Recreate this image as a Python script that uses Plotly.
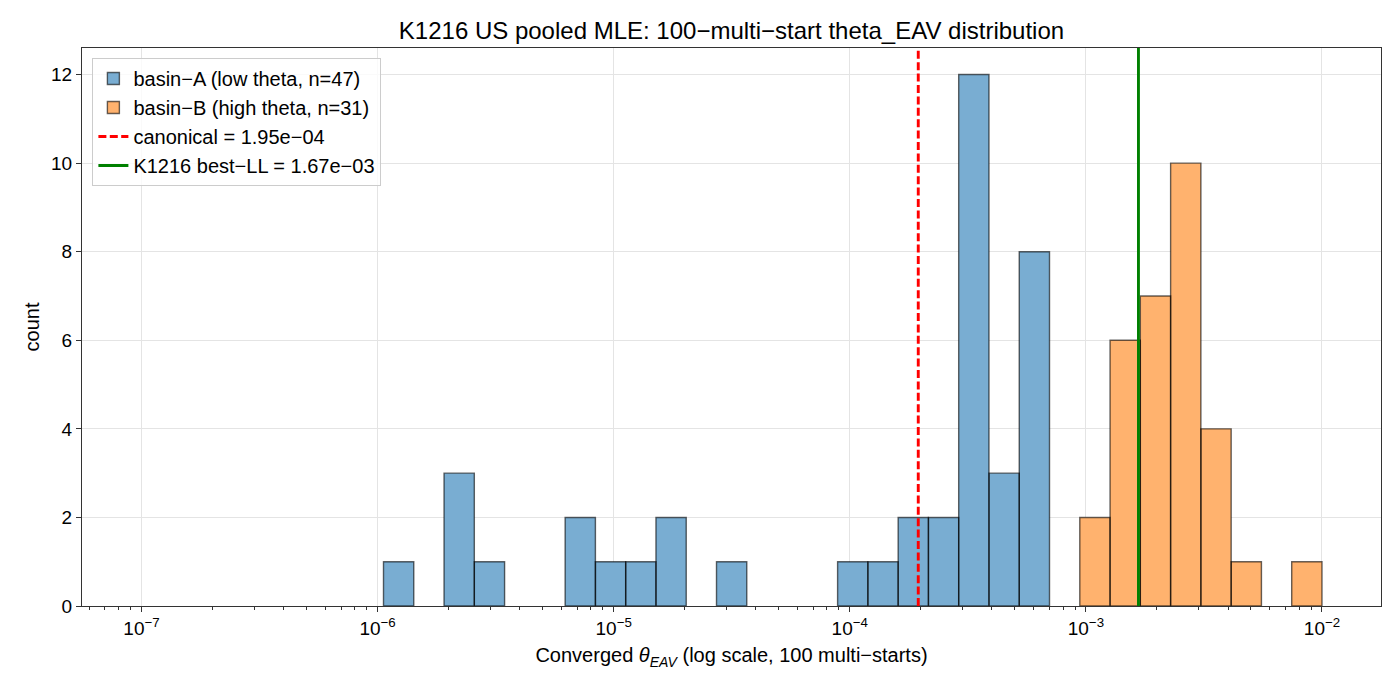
import numpy as np
import plotly.graph_objects as go

# ---- data ----
log_lo, log_hi, n_bins = -5.975, -2.0, 31          # histogram bin range (log10) and bin count
basin_a_bins = [0, 2, 3, 6, 7, 8, 9, 11, 15, 16, 17, 18, 19, 20, 21]
basin_a_counts = [1, 3, 1, 2, 1, 1, 2, 1, 1, 1, 2, 2, 12, 3, 8]
basin_b_bins = [23, 24, 25, 26, 27, 28, 30]
basin_b_counts = [2, 6, 7, 10, 4, 1, 1]
canonical = 1.95e-4
best_ll = 1.67e-3
major_exps = [-7, -6, -5, -4, -3, -2]
y_ticks = [0, 2, 4, 6, 8, 10, 12]

edges = np.logspace(log_lo, log_hi, n_bins + 1)

def polys(bins, counts):
    xs, ys = [], []
    for b, c in zip(bins, counts):
        l, r = edges[b], edges[b + 1]
        xs += [l, l, r, r, l, None]
        ys += [0, c, c, 0, 0, None]
    return xs, ys

FONT = "Liberation Sans"
FS = 20
BLUE = "rgb(121,173,210)"
ORANGE = "rgb(255,178,110)"
EDGE = "rgba(0,0,0,0.6)"
fig = go.Figure()

xa, ya = polys(basin_a_bins, basin_a_counts)
fig.add_trace(go.Scatter(x=xa, y=ya, mode="lines", fill="toself", fillcolor=BLUE,
                         line=dict(color=EDGE, width=1.4), showlegend=False,
                         legendgroup="a", hoverinfo="skip"))
xb, yb = polys(basin_b_bins, basin_b_counts)
fig.add_trace(go.Scatter(x=xb, y=yb, mode="lines", fill="toself", fillcolor=ORANGE,
                         line=dict(color=EDGE, width=1.4), showlegend=False,
                         legendgroup="b", hoverinfo="skip"))
# legend swatches (rectangles)
fig.add_trace(go.Bar(x=[None], y=[None], marker=dict(color=BLUE, line=dict(color=EDGE, width=1.4)),
                     name="basin\u2212A (low theta, n=47)", legendgroup="a"))
fig.add_trace(go.Bar(x=[None], y=[None], marker=dict(color=ORANGE, line=dict(color=EDGE, width=1.4)),
                     name="basin\u2212B (high theta, n=31)", legendgroup="b"))
fig.add_trace(go.Scatter(x=[canonical, canonical], y=[0, 12.6], mode="lines",
                         line=dict(color="red", width=2.9, dash="8px,3.4px"),
                         name="canonical = 1.95e\u221204", legendgroup="c"))
fig.add_trace(go.Scatter(x=[best_ll, best_ll], y=[0, 12.6], mode="lines",
                         line=dict(color="green", width=2.9),
                         name="K1216 best\u2212LL = 1.67e\u221203", legendgroup="d"))

minor_vals = [k * 10.0 ** e for e in range(-8, -1) for k in range(2, 10)]

fig.update_layout(
    width=1400, height=700,
    margin=dict(l=82, r=19, t=48, b=94),
    plot_bgcolor="white", paper_bgcolor="white",
    font=dict(family=FONT, size=FS, color="black"),
    title=dict(text="K1216 US pooled MLE: 100\u2212multi\u2212start theta_EAV distribution",
               x=0.5, xref="paper", xanchor="center", y=0.957, yanchor="middle",
               font=dict(size=24)),
    xaxis=dict(type="log", range=[-7.252, -1.75],
               tickvals=[10.0 ** e for e in major_exps],
               ticktext=["10<sup>\u2212%d</sup>" % (-e) for e in major_exps],
               tickfont=dict(size=19),
               ticks="outside", ticklen=5, tickwidth=1.1, tickcolor="#333",
               showline=True, linecolor="#333", linewidth=1.2, mirror=True,
               showgrid=True, gridcolor="#e4e4e4", gridwidth=1.1, zeroline=False,
               minor=dict(tickmode="array", tickvals=minor_vals, ticks="outside",
                          ticklen=3, tickwidth=1, tickcolor="#333", showgrid=False),
               title=dict(text="Converged <i>\u03b8</i><sub><i>EAV</i></sub> (log scale, 100 multi\u2212starts)",
                          font=dict(size=FS), standoff=10)),
    yaxis=dict(range=[0, 12.6], tickvals=y_ticks, tickfont=dict(size=19),
               ticks="outside", ticklen=5, tickwidth=1.1, tickcolor="#333",
               showline=True, linecolor="#333", linewidth=1.2, mirror=True,
               showgrid=True, gridcolor="#e4e4e4", gridwidth=1.1, zeroline=False,
               title=dict(text="count", font=dict(size=FS), standoff=5)),
    legend=dict(x=0.008, y=0.982, xanchor="left", yanchor="top",
                bgcolor="rgba(255,255,255,0.8)", bordercolor="#cccccc", borderwidth=1,
                font=dict(size=FS), tracegroupgap=0, traceorder="grouped"),
    showlegend=True,
    barmode="overlay",
)

fig.write_html("out.html")
